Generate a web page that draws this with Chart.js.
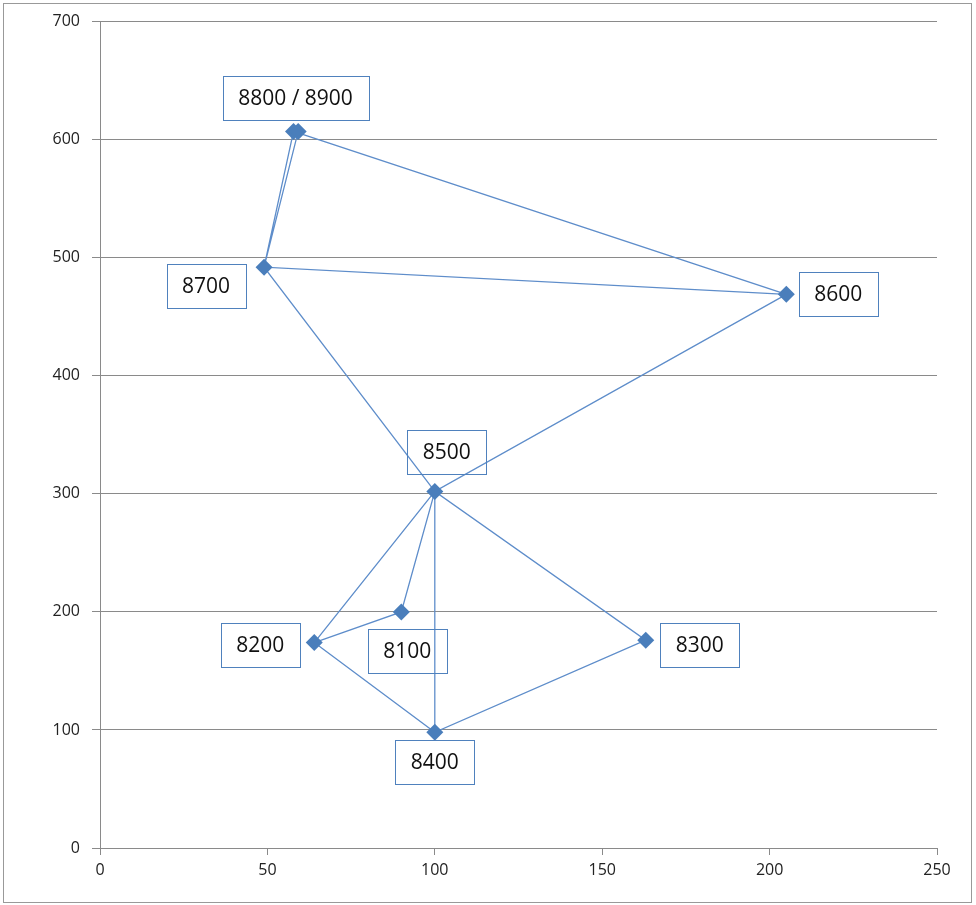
<!DOCTYPE html>
<html>
<head>
<meta charset="utf-8">
<script src="https://cdn.jsdelivr.net/npm/chart.js@4/dist/chart.umd.min.js"></script>
<style>
  html, body { margin: 0; padding: 0; background: #fff; }
  #c { display: block; }
</style>
</head>
<body>
<canvas id="c" width="976" height="905"></canvas>
<script>
// points
const pointNames = ['8100', '8200', '8300', '8400', '8500', '8600', '8700', '8800', '8900'];
const pointX = [90, 64, 163, 100, 100, 205, 49, 57.8, 59.2];
const pointY = [200, 174, 176, 98, 302, 469, 492, 607, 607];
const labelText = ['8100', '8200', '8300', '8400', '8500', '8600', '8700', '8800 / 8900', ''];

// order the line walks through the points (null = break in the line)
const route = ['8900', '8700', '8800', '8600', '8700', '8500', '8100', '8200', '8500', '8300', '8400', '8200', null, '8400', '8500', '8600'];

const xTicks = [0, 50, 100, 150, 200, 250];
const yTicks = [0, 100, 200, 300, 400, 500, 600, 700];

// label box offsets from their point, in px (style only)
const labelOffsets = [[6, 39], [-54, 2], [54, 5], [0, 30], [12, -39], [52, 0], [-58, 19], [2, -33], [0, 0]];

const BLUE = '#4f81bd';
const LINE = '#5e8dca';
const GRID = '#8a8a8a';

const pointData = pointNames.map((n, i) => ({ x: pointX[i], y: pointY[i] }));
const routeData = route.map(n => {
  if (n === null) return { x: null, y: null };
  const i = pointNames.indexOf(n);
  return { x: pointX[i], y: pointY[i] };
});

const frame = {
  id: 'frame',
  beforeDraw(chart) {
    const ctx = chart.ctx;
    ctx.save();
    ctx.strokeStyle = '#999';
    ctx.lineWidth = 1;
    ctx.strokeRect(3.5, 3.5, 968, 899);
    ctx.restore();
  }
};

const boxLabels = {
  id: 'boxLabels',
  afterDatasetsDraw(chart) {
    const { ctx, scales: { x, y } } = chart;
    ctx.save();
    ctx.font = '21px "Open Sans"';
    ctx.textAlign = 'center';
    ctx.textBaseline = 'middle';
    pointNames.forEach((n, i) => {
      const txt = labelText[i];
      if (!txt) return;
      const cx = x.getPixelForValue(pointX[i]) + labelOffsets[i][0];
      const cy = y.getPixelForValue(pointY[i]) + labelOffsets[i][1];
      const w = Math.round(ctx.measureText(txt).width + 31);
      const h = 44;
      ctx.strokeStyle = BLUE;
      ctx.lineWidth = 1;
      ctx.strokeRect(Math.round(cx - w / 2) + 0.5, Math.round(cy - h / 2) + 0.5, w, h);
      ctx.fillStyle = '#111';
      ctx.fillText(txt, cx, cy + 1);
    });
    ctx.restore();
  }
};

new Chart(document.getElementById('c'), {
  type: 'scatter',
  data: {
    datasets: [
      {
        data: routeData,
        showLine: true,
        spanGaps: false,
        borderColor: LINE,
        borderWidth: 1.3,
        pointRadius: 0,
        order: 2
      },
      {
        data: pointData,
        showLine: false,
        pointStyle: 'rectRot',
        pointRadius: 8.5,
        pointBackgroundColor: '#4a7ebb',
        pointBorderColor: '#4a7ebb',
        pointBorderWidth: 0,
        order: 1
      }
    ]
  },
  options: {
    responsive: false,
    animation: false,
    layout: { padding: { top: 20, right: 39, bottom: 0, left: 0 } },
    plugins: { legend: { display: false }, tooltip: { enabled: false } },
    scales: {
      x: {
        type: 'linear',
        min: 0, max: 250,
        afterBuildTicks: s => { s.ticks = xTicks.map(v => ({ value: v })); },
        afterFit: s => { s.height = 57; },
        grid: { drawOnChartArea: false, color: GRID, tickLength: 7 },
        border: { display: true, color: GRID },
        ticks: { color: '#222', font: { family: 'Open Sans', size: 16 }, padding: 6, maxRotation: 0 }
      },
      y: {
        type: 'linear',
        min: 0, max: 700,
        afterBuildTicks: s => { s.ticks = yTicks.map(v => ({ value: v })); },
        afterFit: s => { s.width = 100; },
        grid: { color: GRID, tickLength: 8 },
        border: { display: true, color: GRID },
        ticks: { color: '#222', font: { family: 'Open Sans', size: 16 }, padding: 12 }
      }
    }
  },
  plugins: [frame, boxLabels]
});
</script>
</body>
</html>
